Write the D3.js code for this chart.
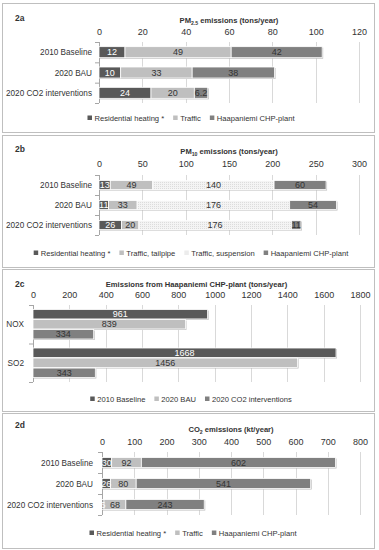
<!DOCTYPE html>
<html><head><meta charset="utf-8">
<script src="https://cdn.jsdelivr.net/npm/d3@7"></script>
<style>
body{margin:0;background:#fff;}
text{font-family:"Liberation Sans",Arial,sans-serif;fill:#333;}
</style></head>
<body><svg id="c" width="379" height="550"></svg>
<script>
// ---- data ----
const scenarios = ["2010 Baseline", "2020 BAU", "2020 CO2 interventions"];
// 2a PM2.5
const pm25Residential = [12, 10, 24];
const pm25Traffic = [49, 33, 20];
const pm25CHP = [42, 38, 6.2];
const pm25Ticks = [0, 20, 40, 60, 80, 100, 120];
// 2b PM10
const pm10Residential = [13, 11, 26];
const pm10Tailpipe = [49, 33, 20];
const pm10Suspension = [140, 176, 176];
const pm10CHP = [60, 54, 11];
const pm10Ticks = [0, 50, 100, 150, 200, 250, 300];
// 2c CHP plant
const pollutants = ["NOX", "SO2"];
const chp2010 = [961, 1668];
const chpBAU = [839, 1456];
const chpCO2 = [334, 343];
const chpTicks = [0, 200, 400, 600, 800, 1000, 1200, 1400, 1600, 1800];
// 2d CO2
const co2Residential = [30, 26, 6];
const co2Traffic = [92, 80, 68];
const co2CHP = [602, 541, 243];
const co2Ticks = [0, 100, 200, 300, 400, 500, 600, 700, 800];

const DARK = "#595959", LIGHT = "#bfbfbf", MED = "#808080";
const svg = d3.select("#c");
const defs = svg.append("defs");
const pat = defs.append("pattern").attr("id", "dots").attr("width", 2).attr("height", 2).attr("patternUnits", "userSpaceOnUse");
pat.append("rect").attr("width", 2).attr("height", 2).attr("fill", "#f4f4f4");
pat.append("rect").attr("width", 1).attr("height", 1).attr("fill", "#dcdcdc");

function panel(o) {
  const g = svg.append("g");
  g.append("rect").attr("x", 2.5).attr("y", o.top + 0.5).attr("width", 372).attr("height", o.bottom - o.top)
    .attr("fill", "#fff").attr("stroke", "#bfbfbf");
  g.append("text").attr("x", 15).attr("y", o.labelY).attr("font-size", 8.5).attr("font-weight", "bold").text(o.label);
  const x = d3.scaleLinear().domain([0, o.ticks[o.ticks.length - 1]]).range([o.x0, o.x1]);
  // title
  const t = g.append("text").attr("x", (o.x0 + o.x1) / 2).attr("y", o.titleY).attr("text-anchor", "middle")
    .attr("font-size", 7.6).attr("font-weight", "bold");
  o.title.forEach(p => {
    const ts = t.append("tspan").text(p.t);
    if (p.sub) ts.attr("font-size", 5.2).attr("dy", 2);
    else if (p.after) ts.attr("dy", -2);
  });
  // gridlines and ticks
  g.selectAll(".grid").data(o.ticks.slice(1)).join("line")
    .attr("x1", d => Math.round(x(d)) + 0.5).attr("x2", d => Math.round(x(d)) + 0.5)
    .attr("y1", o.py0).attr("y2", o.py1).attr("stroke", "#d9d9d9");
  const ax = d3.axisTop(x).tickValues(o.ticks).tickSize(0).tickPadding(0).tickFormat(d3.format("d"));
  const axg = g.append("g").attr("transform", `translate(0,${o.tickY})`).call(ax);
  axg.select(".domain").remove();
  axg.selectAll("text").attr("font-size", 9).attr("font-family", "Liberation Sans, Arial, sans-serif").attr("fill", "#333").attr("dy", 0);
  // category axis
  const y = d3.scaleBand().domain(o.cats).range([o.py0, o.py1]);
  g.append("line").attr("x1", o.x0 + 0.5).attr("x2", o.x0 + 0.5).attr("y1", o.py0).attr("y2", o.py1).attr("stroke", "#a6a6a6");
  const bounds = o.cats.map(c => y(c)).concat([o.py1]);
  g.selectAll(".ct").data(bounds).join("line").attr("x1", o.x0 - 4).attr("x2", o.x0)
    .attr("y1", d => d + 0.5).attr("y2", d => d + 0.5).attr("stroke", "#a6a6a6");
  g.selectAll(".cl").data(o.cats).join("text").attr("x", o.x0 - o.catGap).attr("y", d => y(d) + y.bandwidth() / 2 + 3)
    .attr("text-anchor", "end").attr("font-size", 8.2).text(d => d);
  // bars
  const bg = g.append("g");
  if (o.stack) {
    const keys = o.series.map((s, i) => "k" + i);
    const rows = o.cats.map((c, j) => { const r = { cat: c }; o.series.forEach((s, i) => r["k" + i] = s.values[j]); return r; });
    const st = d3.stack().keys(keys)(rows);
    const bh = o.barH;
    rows.forEach(r => {
      const tot = keys.reduce((a, k) => a + r[k], 0);
      const cy = y(r.cat) + y.bandwidth() / 2;
      bg.append("rect").attr("x", x(0) + 1).attr("y", cy - bh / 2 + 1).attr("width", x(tot) - x(0)).attr("height", bh)
        .attr("fill", "#bbb");
    });
    st.forEach((layer, i) => {
      const s = o.series[i];
      layer.forEach(d => {
        const cy = y(d.data.cat) + y.bandwidth() / 2;
        bg.append("rect").attr("x", x(d[0])).attr("y", cy - bh / 2).attr("width", x(d[1]) - x(d[0])).attr("height", bh)
          .attr("fill", s.fill).attr("stroke", "#fff").attr("stroke-width", 0.8);
      });
    });
    st.forEach((layer, i) => {
      const s = o.series[i];
      layer.forEach((d, j) => {
        const cy = y(d.data.cat) + y.bandwidth() / 2;
        bg.append("text").attr("x", (x(d[0]) + x(d[1])) / 2).attr("y", cy + 3.2).attr("text-anchor", "middle")
          .attr("font-size", 9).style("fill", s.txt).text(s.values[j]);
      });
    });
  } else {
    const inner = d3.scaleBand().domain(o.series.map((s, i) => i)).range([0, y.bandwidth()]).paddingInner(0.06).paddingOuter(0.45);
    o.series.forEach((s, i) => {
      o.cats.forEach((c, j) => {
        const yy = y(c) + inner(i);
        const v = s.values[j];
        bg.append("rect").attr("x", x(0) + 1).attr("y", yy + 1).attr("width", x(v) - x(0)).attr("height", inner.bandwidth()).attr("fill", "#bbb");
        bg.append("rect").attr("x", x(0)).attr("y", yy).attr("width", x(v) - x(0)).attr("height", inner.bandwidth())
          .attr("fill", s.fill).attr("stroke", "#fff").attr("stroke-width", 0.8);
        bg.append("text").attr("x", (x(0) + x(v)) / 2).attr("y", yy + inner.bandwidth() / 2 + 3.2).attr("text-anchor", "middle")
          .attr("font-size", 9).style("fill", s.txt).text(v);
      });
    });
  }
  // legend
  const lg = g.append("g");
  let cx = 0;
  o.series.forEach(s => {
    const it = lg.append("g");
    it.append("rect").attr("x", 0).attr("y", -5.5).attr("width", 4.5).attr("height", 4.5).attr("fill", s.fill === "url(#dots)" ? "#ececec" : s.fill);
    const tx = it.append("text").attr("x", 7).attr("y", 0).attr("font-size", 7.6).text(s.name);
    const w = 7 + tx.node().getComputedTextLength();
    it.attr("transform", `translate(${cx},0)`);
    cx += w + 9;
  });
  const total = cx - 9;
  lg.attr("transform", `translate(${o.legC - total / 2},${o.legY})`);
}

panel({
  top: 3, bottom: 132, label: "2a", labelY: 21, titleY: 23,
  title: [{ t: "PM" }, { t: "2.5", sub: true }, { t: " emissions (tons/year)", after: true }],
  x0: 99, x1: 359, ticks: pm25Ticks, tickY: 35, py0: 42, py1: 103, cats: scenarios, catGap: 7, barH: 11,
  stack: true, legY: 121, legC: 191,
  series: [
    { name: "Residential heating *", values: pm25Residential, fill: DARK, txt: "#fff" },
    { name: "Traffic", values: pm25Traffic, fill: LIGHT, txt: "#333" },
    { name: "Haapaniemi CHP-plant", values: pm25CHP, fill: MED, txt: "#333" }
  ]
});
panel({
  top: 135, bottom: 267, label: "2b", labelY: 152, titleY: 154,
  title: [{ t: "PM" }, { t: "10", sub: true }, { t: " emissions (tons/year)", after: true }],
  x0: 99, x1: 359, ticks: pm10Ticks, tickY: 167, py0: 175, py1: 235, cats: scenarios, catGap: 7, barH: 9,
  stack: true, legY: 256, legC: 191,
  series: [
    { name: "Residential heating *", values: pm10Residential, fill: DARK, txt: "#fff" },
    { name: "Traffic, tailpipe", values: pm10Tailpipe, fill: LIGHT, txt: "#333" },
    { name: "Traffic, suspension", values: pm10Suspension, fill: "url(#dots)", txt: "#333" },
    { name: "Haapaniemi CHP-plant", values: pm10CHP, fill: MED, txt: "#333" }
  ]
});
panel({
  top: 269, bottom: 411, label: "2c", labelY: 287, titleY: 287,
  title: [{ t: "Emissions from Haapaniemi CHP-plant (tons/year)" }],
  x0: 33, x1: 360, ticks: chpTicks, tickY: 298, py0: 305, py1: 382, cats: pollutants, catGap: 9, barH: 8,
  stack: false, legY: 402, legC: 191,
  series: [
    { name: "2010 Baseline", values: chp2010, fill: DARK, txt: "#fff" },
    { name: "2020 BAU", values: chpBAU, fill: LIGHT, txt: "#333" },
    { name: "2020 CO2 interventions", values: chpCO2, fill: MED, txt: "#333" }
  ]
});
panel({
  top: 413, bottom: 548, label: "2d", labelY: 428, titleY: 432,
  title: [{ t: "CO" }, { t: "2", sub: true }, { t: " emissions (kt/year)", after: true }],
  x0: 102, x1: 360, ticks: co2Ticks, tickY: 445, py0: 452, py1: 515, cats: scenarios, catGap: 9, barH: 10,
  stack: true, legY: 536, legC: 193,
  series: [
    { name: "Residential heating *", values: co2Residential, fill: DARK, txt: "#fff" },
    { name: "Traffic", values: co2Traffic, fill: LIGHT, txt: "#333" },
    { name: "Haapaniemi CHP-plant", values: co2CHP, fill: MED, txt: "#333" }
  ]
});
</script></body></html>
